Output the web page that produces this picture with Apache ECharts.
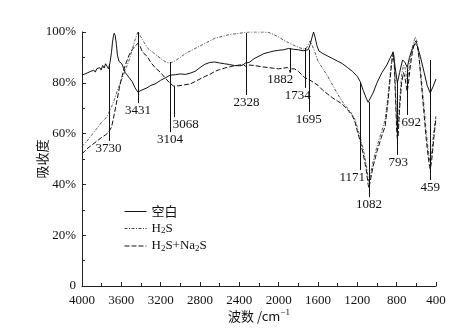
<!DOCTYPE html>
<html>
<head>
<meta charset="utf-8">
<script src="https://cdn.jsdelivr.net/npm/echarts@6/dist/echarts.min.js"></script>
<style>
  html, body { margin: 0; padding: 0; background: #fff; }
  #chart { width: 457px; height: 328px; }
</style>
</head>
<body>
<div id="chart"></div>
<script>
// IR spectra: absorbance (%) against wavenumber (cm^-1)

// 空白 (blank)
const blankWn = [4000,3985,3970,3955,3940,3925,3910,3895,3880,3865,3850,3835,3820,3805,3790,3775,3760,3745,3730,3715,3700,3690,3680,3672,3662,3650,3640,3625,3610,3595,3580,3560,3540,3520,3490,3460,3431,3400,3370,3340,3300,3258,3200,3150,3104,3050,3000,2950,2900,2850,2800,2750,2700,2650,2600,2550,2500,2450,2400,2360,2340,2328,2300,2250,2200,2150,2100,2050,2000,1950,1900,1882,1850,1800,1750,1734,1700,1680,1660,1645,1630,1610,1590,1550,1500,1450,1400,1350,1300,1250,1200,1171,1140,1110,1090,1070,1040,1000,950,900,870,850,836,815,793,770,740,715,692,670,640,612,590,560,520,490,459,430,400];
const blankAbs = [83,82.5,83.5,83,84,83.5,84.5,83.8,85,84.2,85.5,84.8,86,85,86.8,85.8,87.5,86.5,85.5,88,92,96,98.5,99.5,98.5,95,91,88.5,88,87.5,86,84,83,82,80.5,78,76.3,77,77.5,78,79,79.5,81,82,83,83.2,83.5,83.3,83.8,84.5,86,87.3,88,88.2,87.8,87.5,87.2,86.8,86.7,87,87.8,87.5,88,89.5,90.5,91.5,92,92.5,92.8,93,93.5,93.6,93.2,93,92.6,92.5,93,95,98,100,98,94.5,92.5,91.5,90.5,89.5,88.5,87.5,86,84.5,82.5,80.5,77,74,72.3,73,76,80,84,87,89.5,91,92,86,80,84,89,88,86,90,93.5,95.5,94.5,90.5,84,79,76,78.5,81.5];

// H2S
const h2sWn = [4000,3950,3900,3850,3800,3760,3730,3700,3670,3640,3610,3580,3550,3520,3490,3460,3431,3400,3370,3330,3280,3230,3180,3140,3104,3060,3000,2950,2900,2850,2800,2750,2700,2650,2600,2500,2400,2300,2250,2200,2150,2100,2050,2000,1950,1900,1882,1850,1800,1750,1720,1700,1680,1665,1640,1600,1550,1500,1450,1400,1350,1300,1250,1223,1200,1171,1140,1110,1090,1082,1070,1040,1000,960,917,890,870,850,836,825,810,800,793,785,770,750,730,715,700,692,680,660,640,620,610,595,575,550,520,500,480,465,459,445,430,415,400];
const h2sAbs = [55,57,59.5,62,64.5,66,68,70.5,73.5,77,80,83,86,89,93,97,100,98,96,93.5,92,90.5,89,88,87.8,88.5,90,91.5,92.5,93.5,94.5,95.5,96.5,97.5,98,99,99.5,100,100,100,100,99.8,99,98,96.8,95.8,95.5,94.8,94,93.3,93.5,95,96.5,96,93,88.5,85.5,82.5,79,75.5,72.5,70,67.5,65.5,62.5,58.5,54,48,42.5,41,43,49,55,60,65.5,74,82,89,92.5,90,76,65,62,63,73,83,87,86,82,80.5,84,90,94,97,98,96.5,91,82,70,61,54,49.5,48.5,52,58,63,67];

// H2S+Na2S
const mixWn = [4000,3950,3900,3850,3800,3760,3730,3700,3680,3660,3640,3620,3600,3580,3560,3540,3520,3490,3460,3431,3410,3390,3370,3339,3300,3257,3200,3156,3110,3068,3020,2960,2900,2850,2800,2750,2700,2650,2600,2550,2500,2450,2400,2360,2340,2328,2300,2250,2200,2150,2100,2050,2000,1950,1910,1890,1882,1870,1860,1840,1800,1760,1734,1700,1680,1640,1600,1550,1500,1450,1400,1350,1300,1250,1223,1200,1171,1140,1110,1090,1082,1070,1040,1000,960,917,890,870,850,836,825,810,800,793,785,770,750,730,715,700,692,680,660,640,620,605,590,570,545,520,500,480,465,459,445,430,415,400];
const mixAbs = [52,54,55.5,57,58.5,59.5,60.5,62.5,66,70,74,78,81.5,84.5,87,89,91,93,94.5,95.5,94.5,92.5,91.5,90.5,88,86,84,82,80,78.7,78.8,79.2,79.5,80.5,81.5,82.5,83.3,84.5,85.2,85.8,86.3,86.7,87,87.3,86.5,86.8,87,86.8,86.5,86.2,86,85.7,85.5,85.8,86,85,84,85.5,86,85.5,84.5,83,82,81.5,80.8,80,79,77,75.5,74,72.8,71.5,69.5,67,64.5,61,57,52,46,40,38.5,41,47,53,58,63,72,80,88,91.5,88,72,61,58,59,70,80,84,82,78,76.5,80,87,92,95.5,96.5,95,89,78,67,58,51,47,46,49,55,61,66];

// peak annotations: wavenumber, line top (%), line bottom (%)
const peakLabels = ['3730','3431','3104','3068','2328','1882','1734','1695','1171','1082','793','692','459'];
const peakWn     = [3730, 3431, 3104, 3068, 2328, 1882, 1734, 1695, 1171, 1082, 793, 692, 459];
const peakTop    = [87.4, 100, 88.2, 78.7, 99.6, 93.7, 93.7, 93, 80, 72.4, 81, 85.8, 89];
const peakBottom = [57.1, 72, 60.6, 66.5, 75.2, 84.3, 78, 68.5, 45.7, 35, 51.6, 67.3, 41.7];

// axis ticks
const xTicks = [4000,3600,3200,2800,2400,2000,1600,1200,800,400];
const yTicks = [0,20,40,60,80,100];

// horizontal nudge of each peak label relative to its line (px)
const labelShift = [0,0,0,12,0,-10,-7,0,-8,0,1,4,0];

const serif = '"Liberation Serif", "DejaVu Serif", serif';
const cjk = '"Noto Sans CJK SC", sans-serif';

function pairs(xs, ys) { return xs.map((x, i) => [x, ys[i]]); }

const chart = echarts.init(document.getElementById('chart'), null, { renderer: 'canvas' });

const txt = { fontFamily: serif, fontSize: 13, color: '#111' };

chart.setOption({
  animation: false,
  backgroundColor: '#fff',
  grid: { left: 82, right: 21, top: 32, bottom: 42, containLabel: false },
  legend: {
    orient: 'vertical',
    left: 124,
    top: 205,
    padding: 0,
    itemWidth: 22,
    itemHeight: 10,
    itemGap: 3.5,
    itemStyle: { opacity: 0 },
    lineStyle: { width: 1 },
    data: ['空白', 'H2S', 'H2S+Na2S'],
    formatter: function (n) {
      if (n === '空白') return '{zh|空白}';
      if (n === 'H2S') return '{t|H}{sub|2}{t|S}';
      return '{t|H}{sub|2}{t|S+Na}{sub|2}{t|S}';
    },
    textStyle: {
      rich: {
        zh: { fontFamily: cjk, fontSize: 13, color: '#111', lineHeight: 16 },
        t: { fontFamily: serif, fontSize: 13, color: '#111', lineHeight: 16 },
        sub: { fontFamily: serif, fontSize: 9, color: '#111', padding: [5, 0, 0, 0], lineHeight: 16 }
      }
    }
  },
  xAxis: {
    type: 'value',
    inverse: true,
    min: 400,
    max: 4000,
    interval: 400,
    name: '{t|波数 /cm}{sup|−1}',
    nameLocation: 'middle',
    nameGap: 22,
    nameMoveOverlap: false,
    nameTextStyle: {
      rich: {
        t: { fontFamily: cjk, fontSize: 13, color: '#111' },
        sup: { fontFamily: serif, fontSize: 9, color: '#111', padding: [0, 0, 8, 0] }
      }
    },
    axisLine: { lineStyle: { color: '#222', width: 1 } },
    axisTick: { inside: true, length: 4, lineStyle: { color: '#222' } },
    minorTick: { show: true, splitNumber: 2, length: 3, lineStyle: { color: '#222' } },
    axisLabel: Object.assign({ margin: 8, formatter: v => xTicks.includes(v) ? String(v) : '' }, txt),
    splitLine: { show: false }
  },
  yAxis: {
    type: 'value',
    min: 0,
    max: 100,
    interval: 20,
    name: '吸收度',
    nameLocation: 'middle',
    nameGap: 33,
    nameMoveOverlap: false,
    nameRotate: 90,
    nameTextStyle: { fontFamily: cjk, fontSize: 13, color: '#111' },
    axisLine: { show: true, lineStyle: { color: '#222', width: 1 } },
    axisTick: { inside: true, length: 4, lineStyle: { color: '#222' } },
    minorTick: { show: true, splitNumber: 2, length: 3, lineStyle: { color: '#222' } },
    axisLabel: Object.assign({ margin: 6, formatter: v => yTicks.includes(v) ? (v === 0 ? '0' : v + '%') : '' }, txt),
    splitLine: { show: false }
  },
  series: [
    {
      name: '空白', type: 'line', symbol: 'none', z: 3,
      data: pairs(blankWn, blankAbs),
      lineStyle: { color: '#111', width: 1, type: 'solid' },
      itemStyle: { color: '#111' }
    },
    {
      name: 'H2S', type: 'line', symbol: 'none', z: 2,
      data: pairs(h2sWn, h2sAbs),
      lineStyle: { color: '#444', width: 0.9, type: [3, 1.5, 1, 1.5] },
      itemStyle: { color: '#444' }
    },
    {
      name: 'H2S+Na2S', type: 'line', symbol: 'none', z: 2,
      data: pairs(mixWn, mixAbs),
      lineStyle: { color: '#111', width: 1, type: [5, 2] },
      itemStyle: { color: '#111' }
    },
    {
      name: 'peaks', type: 'custom', z: 5, silent: true,
      data: peakWn.map((w, i) => [w, peakTop[i], peakBottom[i]]),
      renderItem: function (params, api) {
        const i = params.dataIndex;
        const w = api.value(0);
        const p1 = api.coord([w, api.value(1)]);
        const p2 = api.coord([w, api.value(2)]);
        return {
          type: 'group',
          children: [
            {
              type: 'line',
              shape: { x1: Math.round(p1[0]) + 0.5, y1: p1[1], x2: Math.round(p2[0]) + 0.5, y2: p2[1] },
              style: { stroke: '#111', lineWidth: 1 }
            },
            {
              type: 'text',
              style: {
                x: p2[0] + labelShift[i], y: p2[1] + 1,
                text: peakLabels[i],
                textAlign: 'center', textVerticalAlign: 'top',
                font: '13px ' + serif, fill: '#111'
              }
            }
          ]
        };
      }
    }
  ]
});
</script>
</body>
</html>
